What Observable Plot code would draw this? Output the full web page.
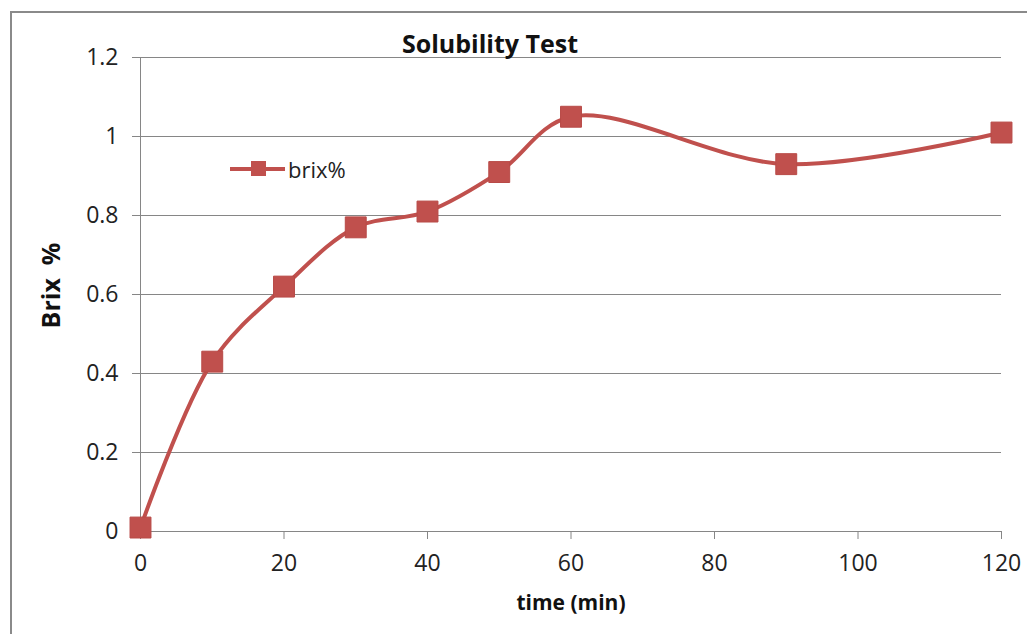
<!DOCTYPE html>
<html>
<head>
<meta charset="utf-8">
<script src="https://cdn.jsdelivr.net/npm/d3@7"></script>
<script src="https://cdn.jsdelivr.net/npm/@observablehq/plot@0.6"></script>
<style>
  html, body { margin: 0; padding: 0; background: #fff; overflow: hidden; width: 1027px; height: 634px; }
  #wrap { position: relative; width: 1027px; height: 634px; }
  #border { position: absolute; left: 10px; top: 11px; width: 1100px; height: 700px; border: 2px solid #8a8a8a; box-sizing: border-box; }
  #chart { position: absolute; left: 0; top: 0; }
  #chart text { white-space: pre; }
  #legend { position: absolute; left: 228px; top: 154px; font-family: "Open Sans", sans-serif; font-size: 22px; color: #222; display: flex; align-items: center; }
  #legend svg { margin-right: 2px; }
</style>
</head>
<body>
<div id="wrap">
  <div id="border"></div>
  <div id="chart"></div>
  <div id="legend"></div>
</div>
<script>
const times = [0, 10, 20, 30, 40, 50, 60, 90, 120];
const brix = [0.01, 0.43, 0.62, 0.77, 0.81, 0.91, 1.05, 0.93, 1.01];
const xTicks = [0, 20, 40, 60, 80, 100, 120];
const yTicks = [0, 0.2, 0.4, 0.6, 0.8, 1, 1.2];
const seriesName = "brix%";
const titleText = "Solubility Test";
const xLabel = "time (min)";
const yLabel = "Brix  %";

const color = "#C0504D";
const gray = "#868686";
const data = times.map((t, i) => ({time: t, brix: brix[i]}));

const chart = Plot.plot({
  width: 1027,
  height: 634,
  marginLeft: 140,
  marginRight: 26,
  marginTop: 57,
  marginBottom: 103,
  style: {fontFamily: "Open Sans, sans-serif", fontSize: "23px", color: "#222", background: "transparent", overflow: "visible"},
  x: {domain: [0, 120]},
  y: {domain: [0, 1.2]},
  marks: [
    Plot.gridY(yTicks, {stroke: gray, strokeOpacity: 1, strokeWidth: 1}),
    Plot.axisY(yTicks, {tickSize: 8, tickPadding: 14, stroke: gray, strokeOpacity: 1, label: null, tickFormat: d => String(d), fill: "#222"}),
    Plot.axisX(xTicks, {tickSize: 8, tickPadding: 15, stroke: gray, strokeOpacity: 1, label: null, tickFormat: d => String(d), fill: "#222"}),
    Plot.ruleX([0], {stroke: gray, strokeWidth: 1}),
    Plot.ruleY([0], {stroke: gray, strokeWidth: 1}),
    Plot.line(data, {x: "time", y: "brix", curve: "catmull-rom", stroke: color, strokeWidth: 4}),
    Plot.dot(data, {x: "time", y: "brix", symbol: "square", r: 11.8, fill: color, stroke: "#b84a47", strokeWidth: 1}),
    Plot.text([titleText], {frameAnchor: "top", textAnchor: "middle", lineAnchor: "middle", dx: -81, dy: -13, fontWeight: "bold", fontSize: 25, fill: "#111"}),
    Plot.text([xLabel], {frameAnchor: "bottom", textAnchor: "middle", lineAnchor: "middle", dy: 72, fontWeight: "bold", fontSize: 21, fill: "#111"}),
    Plot.text([yLabel], {frameAnchor: "left", textAnchor: "middle", lineAnchor: "middle", dx: -89, dy: -9, rotate: -90, fontWeight: "bold", fontSize: 25, fill: "#111"})
  ]
});
document.getElementById("chart").appendChild(chart);

const lg = document.getElementById("legend");
lg.innerHTML = `<svg width="58" height="30"><line x1="2" y1="15" x2="57" y2="15" stroke="${color}" stroke-width="4"/><rect x="23" y="7" width="15" height="15" fill="${color}"/></svg><span>${seriesName}</span>`;
</script>
</body>
</html>
